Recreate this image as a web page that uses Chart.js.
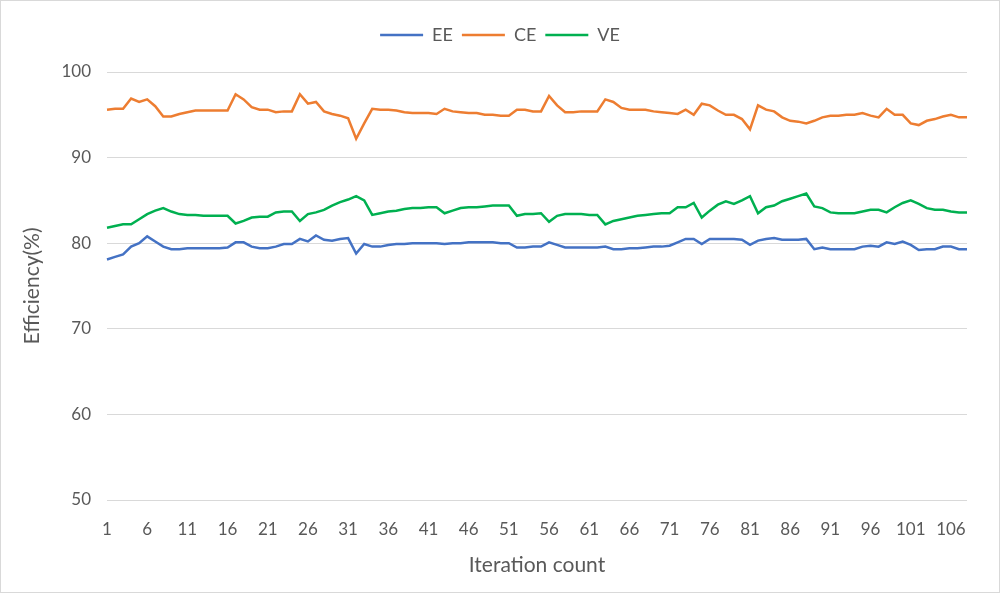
<!DOCTYPE html>
<html>
<head>
<meta charset="utf-8">
<script src="https://cdn.jsdelivr.net/npm/chart.js@4.4.1/dist/chart.umd.min.js"></script>
<style>
  html, body { margin: 0; padding: 0; background: #fff; }
  #wrap { width: 1000px; height: 593px; position: relative; }
</style>
</head>
<body>
<div id="wrap"><canvas id="effChart"></canvas></div>
<script>
// iteration 1..108
const iterations = Array.from({ length: 108 }, (_, i) => String(i + 1));

const eeValues = [
  78.1, 78.4, 78.7, 79.6, 80.0, 80.8, 80.2, 79.6, 79.3, 79.3,
  79.4, 79.4, 79.4, 79.4, 79.4, 79.5, 80.1, 80.1, 79.6, 79.4,
  79.4, 79.6, 79.9, 79.9, 80.5, 80.2, 80.9, 80.4, 80.3, 80.5,
  80.6, 78.8, 79.9, 79.6, 79.6, 79.8, 79.9, 79.9, 80.0, 80.0,
  80.0, 80.0, 79.9, 80.0, 80.0, 80.1, 80.1, 80.1, 80.1, 80.0,
  80.0, 79.5, 79.5, 79.6, 79.6, 80.1, 79.8, 79.5, 79.5, 79.5,
  79.5, 79.5, 79.6, 79.3, 79.3, 79.4, 79.4, 79.5, 79.6, 79.6,
  79.7, 80.1, 80.5, 80.5, 79.9, 80.5, 80.5, 80.5, 80.5, 80.4,
  79.8, 80.3, 80.5, 80.6, 80.4, 80.4, 80.4, 80.5, 79.3, 79.5,
  79.3, 79.3, 79.3, 79.3, 79.6, 79.7, 79.6, 80.1, 79.9, 80.2,
  79.8, 79.2, 79.3, 79.3, 79.6, 79.6, 79.3, 79.3
];

const ceValues = [
  95.6, 95.7, 95.7, 96.9, 96.5, 96.8, 96.0, 94.8, 94.8, 95.1,
  95.3, 95.5, 95.5, 95.5, 95.5, 95.5, 97.4, 96.8, 95.9, 95.6,
  95.6, 95.3, 95.4, 95.4, 97.4, 96.3, 96.5, 95.4, 95.1, 94.9,
  94.6, 92.2, 94.0, 95.7, 95.6, 95.6, 95.5, 95.3, 95.2, 95.2,
  95.2, 95.1, 95.7, 95.4, 95.3, 95.2, 95.2, 95.0, 95.0, 94.9,
  94.9, 95.6, 95.6, 95.4, 95.4, 97.2, 96.1, 95.3, 95.3, 95.4,
  95.4, 95.4, 96.8, 96.5, 95.8, 95.6, 95.6, 95.6, 95.4, 95.3,
  95.2, 95.1, 95.6, 95.0, 96.3, 96.1, 95.5, 95.0, 95.0, 94.5,
  93.3, 96.1, 95.6, 95.4, 94.7, 94.3, 94.2, 94.0, 94.3, 94.7,
  94.9, 94.9, 95.0, 95.0, 95.2, 94.9, 94.7, 95.7, 95.0, 95.0,
  94.0, 93.8, 94.3, 94.5, 94.8, 95.0, 94.7, 94.7
];

const veValues = [
  81.8, 82.0, 82.2, 82.2, 82.8, 83.4, 83.8, 84.1, 83.7, 83.4,
  83.3, 83.3, 83.2, 83.2, 83.2, 83.2, 82.3, 82.6, 83.0, 83.1,
  83.1, 83.6, 83.7, 83.7, 82.6, 83.4, 83.6, 83.9, 84.4, 84.8,
  85.1, 85.5, 85.0, 83.3, 83.5, 83.7, 83.8, 84.0, 84.1, 84.1,
  84.2, 84.2, 83.5, 83.8, 84.1, 84.2, 84.2, 84.3, 84.4, 84.4,
  84.4, 83.2, 83.4, 83.4, 83.5, 82.5, 83.2, 83.4, 83.4, 83.4,
  83.3, 83.3, 82.2, 82.6, 82.8, 83.0, 83.2, 83.3, 83.4, 83.5,
  83.5, 84.2, 84.2, 84.7, 83.0, 83.8, 84.5, 84.9, 84.6, 85.0,
  85.5, 83.5, 84.2, 84.4, 84.9, 85.2, 85.5, 85.8, 84.3, 84.1,
  83.6, 83.5, 83.5, 83.5, 83.7, 83.9, 83.9, 83.6, 84.2, 84.7,
  85.0, 84.6, 84.1, 83.9, 83.9, 83.7, 83.6, 83.6
];

const seriesNames = ["EE", "CE", "VE"];
const seriesColors = ["#4472C4", "#ED7D31", "#00B050"];

const textColor = "#595959";
const fontFamily = "Lato, 'Open Sans', sans-serif";

// white background + thin frame like the exported picture
const framePlugin = {
  id: "frame",
  beforeDraw(chart) {
    const c = chart.ctx;
    c.save();
    c.fillStyle = "#fff";
    c.fillRect(0, 0, chart.width, chart.height);
    c.restore();
  },
  afterDraw(chart) {
    const c = chart.ctx;
    c.save();
    c.strokeStyle = "#D9D9D9";
    c.lineWidth = 1;
    c.strokeRect(0.5, 0.5, chart.width - 1, chart.height - 1);
    c.restore();
  }
};

// give the legend some extra room below it
const legendSpace = {
  id: "legendSpace",
  beforeInit(chart) {
    const fit = chart.legend.fit;
    chart.legend.fit = function () {
      fit.call(this);
      this.height += 18;
    };
  }
};

const datasets = [eeValues, ceValues, veValues].map((vals, k) => ({
  label: seriesNames[k],
  data: vals,
  borderColor: seriesColors[k],
  backgroundColor: seriesColors[k],
  borderWidth: 2.5,
  pointRadius: 0,
  pointHoverRadius: 0,
  tension: 0
}));

new Chart(document.getElementById("effChart"), {
  type: "line",
  data: { labels: iterations, datasets },
  options: {
    responsive: true,
    maintainAspectRatio: false,
    animation: false,
    layout: { padding: { top: 17, right: 0, bottom: 0, left: 0 } },
    plugins: {
      tooltip: { enabled: false },
      legend: {
        position: "top",
        labels: {
          usePointStyle: true,
          pointStyle: "line",
          pointStyleWidth: 43,
          padding: 9,
          color: textColor,
          font: { family: fontFamily, size: 18 }
        }
      }
    },
    scales: {
      x: {
        offset: false,
        grid: { display: false, drawTicks: false },
        border: { display: false },
        ticks: {
          autoSkip: false,
          maxRotation: 0,
          padding: 19,
          color: textColor,
          font: { family: fontFamily, size: 17 },
          callback: function (val, idx) {
            return idx % 5 === 0 ? this.getLabelForValue(val) : "";
          }
        },
        title: {
          display: true,
          text: "Iteration count",
          color: textColor,
          font: { family: fontFamily, size: 21 },
          padding: { top: 0, bottom: 15 }
        },
        afterFit(scale) { scale.height = 93; }
      },
      y: {
        min: 50,
        max: 100,
        grid: { color: "#D9D9D9", lineWidth: 1, drawTicks: false },
        border: { display: false },
        ticks: {
          stepSize: 10,
          padding: 16,
          color: textColor,
          font: { family: fontFamily, size: 17 }
        },
        title: {
          display: true,
          text: "Efficiency(%)",
          color: textColor,
          font: { family: fontFamily, size: 21 },
          padding: { top: 20, bottom: 0 }
        },
        afterFit(scale) { scale.width = 107; }
      },
      // empty right-hand axis, only reserves the right margin
      yRight: {
        position: "right",
        display: true,
        grid: { display: false, drawTicks: false },
        border: { display: false },
        ticks: { display: false },
        afterFit(scale) { scale.width = 33; }
      }
    }
  },
  plugins: [framePlugin, legendSpace]
});
</script>
</body>
</html>
